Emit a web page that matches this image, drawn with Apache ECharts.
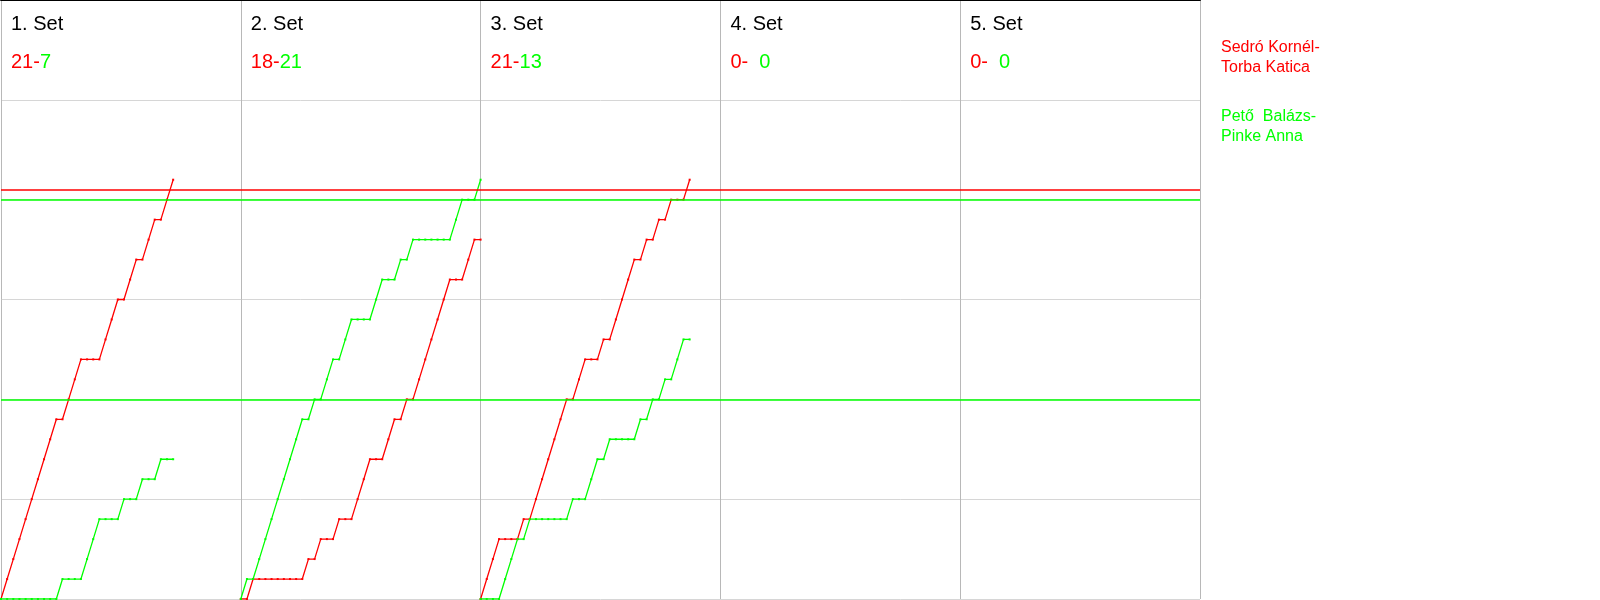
<!DOCTYPE html>
<html><head><meta charset="utf-8">
<script src="https://cdn.jsdelivr.net/npm/echarts@6/dist/echarts.min.js"></script>
<style>html,body{margin:0;padding:0;background:#fff}#c{width:1600px;height:600px}</style>
</head><body><div id="c"></div>
<script>
// ---- data ----
const setTitles = ['1. Set', '2. Set', '3. Set', '4. Set', '5. Set'];
const redScoreText = ['21-', '18-', '21-', '0-', '0-'];
const greenScoreText = ['7', '21', '13', '  0', '  0'];
const teamRed = 'Sedró Kornél-\nTorba Katica';
const teamGreen = 'Pető  Balázs-\nPinke Anna';

// score after each rally (index = rally number)
const set1Red   = [0,1,2,3,4,5,6,7,8,9,9,10,11,12,12,12,12,13,14,15,15,16,17,17,18,19,19,20,21];
const set1Green = [0,0,0,0,0,0,0,0,0,0,1,1,1,1,2,3,4,4,4,4,5,5,5,6,6,6,7,7,7];
const set2Red   = [0,0,1,1,1,1,1,1,1,1,1,2,2,3,3,3,4,4,4,5,6,7,7,7,8,9,9,10,10,11,12,13,14,15,16,16,16,17,18,18];
const set2Green = [0,1,1,2,3,4,5,6,7,8,9,9,10,10,11,12,12,13,14,14,14,14,15,16,16,16,17,17,18,18,18,18,18,18,18,19,20,20,20,21];
const set3Red   = [0,1,2,3,3,3,3,4,4,5,6,7,8,9,10,10,11,12,12,12,13,13,14,15,16,17,17,18,18,19,19,20,20,20,21];
const set3Green = [0,0,0,0,1,2,3,3,4,4,4,4,4,4,4,5,5,5,6,7,7,8,8,8,8,8,9,9,10,10,11,11,12,13,13];

const ralliesPerPanel = 39;
const panelCount = 5;
const redRefLines = [20.5];
const greenRefLines = [20, 10];
const yMax = 30;

const RED = '#ff0000', GREEN = '#00ff00';
const FONT = 'Liberation Sans, Arial, sans-serif';

const redSets = [set1Red, set2Red, set3Red];
const greenSets = [set1Green, set2Green, set3Green];

function toPoints(arr, k) { return arr.map((v, i) => [k * ralliesPerPanel + i, v]); }

function mkSeries(name, color, arr, k, refs) {
  const s = {
    name, type: 'line', data: toPoints(arr, k),
    color,
    lineStyle: { color, width: 1.3 },
    itemStyle: { color },
    symbol: 'rect', symbolSize: 2, showSymbol: true,
    animation: false, silent: true, z: 3
  };
  if (refs) {
    s.markLine = {
      silent: true, symbol: ['none', 'none'], label: { show: false },
      lineStyle: { color, type: 'solid', width: 1.5, opacity: 1 },
      emphasis: { disabled: true },
      data: refs.map(v => ({ yAxis: v, lineStyle: { color } })), animation: false
    };
  }
  return s;
}

const series = [];
redSets.forEach((a, k) => series.push(mkSeries(teamRed, RED, a, k, k === 0 ? redRefLines : null)));
greenSets.forEach((a, k) => series.push(mkSeries(teamGreen, GREEN, a, k, k === 0 ? greenRefLines : null)));

const chart = echarts.init(document.getElementById('c'), null, { renderer: 'canvas' });
chart.setOption({
  animation: false,
  textStyle: { fontFamily: FONT },
  grid: { left: 1, right: 400, top: 0, bottom: 1, containLabel: false },
  xAxis: {
    type: 'value', min: 0, max: ralliesPerPanel * panelCount, interval: ralliesPerPanel,
    position: 'top',
    axisLine: { show: true, onZero: false, lineStyle: { color: '#000', width: 2 } },
    axisTick: { show: false }, axisLabel: { show: false },
    splitLine: { show: true, lineStyle: { color: '#b8b8b8', width: 1 } }
  },
  yAxis: {
    type: 'value', min: 0, max: yMax, interval: 5,
    axisLine: { show: false }, axisTick: { show: false }, axisLabel: { show: false },
    splitLine: { show: true, lineStyle: { color: '#d6d6d6', width: 1 } }
  },
  legend: {
    orient: 'vertical', left: 1211, top: 33, itemGap: 29,
    itemWidth: 0, itemHeight: 0, icon: 'rect', selectedMode: false,
    textStyle: { fontSize: 16, lineHeight: 20, fontFamily: FONT },
    data: [
      { name: teamRed, textStyle: { color: RED } },
      { name: teamGreen, textStyle: { color: GREEN } }
    ]
  },
  series
});

const graphics = [];
setTitles.forEach((t, k) => {
  const px = chart.convertToPixel({ xAxisIndex: 0 }, k * ralliesPerPanel);
  graphics.push({
    type: 'text', x: px + 10, y: 14, silent: true,
    style: { text: t, fill: '#000', font: '20px ' + FONT, verticalAlign: 'top', lineHeight: 20 }
  });
  graphics.push({
    type: 'text', x: px + 10, y: 52, silent: true,
    style: {
      text: '{r|' + redScoreText[k] + '}{g|' + greenScoreText[k] + '}',
      font: '20px ' + FONT, verticalAlign: 'top',
      rich: {
        r: { fill: RED, fontSize: 20, fontFamily: FONT, lineHeight: 20 },
        g: { fill: GREEN, fontSize: 20, fontFamily: FONT, lineHeight: 20 }
      }
    }
  });
});
chart.setOption({ graphic: graphics });
</script></body></html>
